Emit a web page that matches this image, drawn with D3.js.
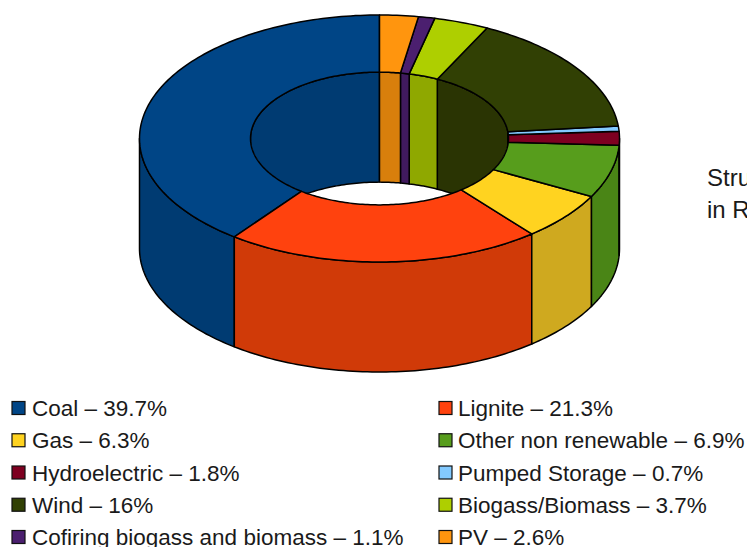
<!DOCTYPE html>
<html>
<head>
<meta charset="utf-8">
<script src="https://cdn.jsdelivr.net/npm/d3@7"></script>
<style>
  html, body { margin: 0; padding: 0; background: #fff; overflow: hidden; }
  text { font-family: "Liberation Sans", Arial, sans-serif; fill: #1a1a1a; }
</style>
</head>
<body>
<div id="wrapper"></div>
<script>
const categories = ["Coal", "Lignite", "Gas", "Other non renewable", "Hydroelectric",
  "Pumped Storage", "Wind", "Biogass/Biomass", "Cofiring biogass and biomass", "PV"];
const values = [39.7, 21.3, 6.3, 6.9, 1.8, 0.7, 16, 3.7, 1.1, 2.6];
const topColors = ["#004586", "#ff420e", "#ffd320", "#579d1c", "#7e0021",
  "#83caff", "#314004", "#aecf00", "#4b1f6f", "#ff950e"];
const wallColors = ["#003b72", "#d03a08", "#cfa91f", "#4a8516", "#6b001c",
  "#6fabd8", "#2a3403", "#8fa800", "#401a5e", "#d87f0c"];
const sideLines = ["Stru", "in R"];

const width = 747, height = 547;
const cx = 379.5, cy = 138.5, outerRx = 240, innerRx = 129, tilt = 0.5146, depth = 110;

const svg = d3.select("#wrapper").append("svg")
  .attr("width", width)
  .attr("height", height)
  .style("display", "block");

const topColor = d3.scaleOrdinal(categories, topColors);
const wallColor = d3.scaleOrdinal(categories, wallColors);

// Coal vem primeiro e as fatias seguem no sentido anti-horario a partir do topo
const slices = d3.pie().value(d => d.value).sort(null).startAngle(2 * Math.PI).endAngle(0)(
  categories.map((name, i) => ({ name, value: values[i] }))
);

const line = d3.line();
const arcPoints = (r, a0, a1, z) => {
  const n = Math.max(2, Math.ceil(Math.abs(a1 - a0) / 0.02));
  return d3.range(n + 1).map(i => {
    const a = a0 + (a1 - a0) * i / n;
    return [cx + r * Math.sin(a), cy - r * tilt * Math.cos(a) + z];
  });
};
const band = (r, a0, a1) => line([...arcPoints(r, a0, a1, 0), ...arcPoints(r, a1, a0, depth)]) + "Z";
const ring = (a0, a1) => line([...arcPoints(outerRx, a0, a1, 0), ...arcPoints(innerRx, a1, a0, 0)]) + "Z";

const span = d => [Math.min(d.startAngle, d.endAngle), Math.max(d.startAngle, d.endAngle)];
const stroked = sel => sel.attr("stroke", "#000").attr("stroke-width", 1.5).attr("stroke-linejoin", "round");

svg.append("clipPath").attr("id", "hole")
  .append("ellipse")
    .attr("cx", cx).attr("cy", cy)
    .attr("rx", innerRx).attr("ry", innerRx * tilt);

// Parede interna: so a metade de tras aparece, recortada pelo furo
const innerBack = slices
  .map(d => {
    const [a0, a1] = span(d);
    // metade de tras = de 270 a 360 e de 0 a 90 graus
    const parts = [];
    const left = [Math.max(a0, 1.5 * Math.PI), a1];
    const right = [a0, Math.min(a1, 0.5 * Math.PI)];
    if (left[1] > left[0]) parts.push(left);
    if (right[1] > right[0]) parts.push(right);
    return parts.map(p => ({ name: d.data.name, a0: p[0], a1: p[1] }));
  })
  .flat();

svg.append("g").attr("clip-path", "url(#hole)")
  .selectAll("path").data(innerBack).join("path")
    .attr("d", d => band(innerRx, d.a0, d.a1))
    .attr("fill", d => wallColor(d.name))
    .call(stroked);

// Parede externa: metade da frente
const outerFront = slices
  .map(d => {
    const [a0, a1] = span(d);
    const p = [Math.max(a0, 0.5 * Math.PI), Math.min(a1, 1.5 * Math.PI)];
    return p[1] > p[0] ? [{ name: d.data.name, a0: p[0], a1: p[1] }] : [];
  })
  .flat();

svg.append("g")
  .selectAll("path").data(outerFront).join("path")
    .attr("d", d => band(outerRx, d.a0, d.a1))
    .attr("fill", d => wallColor(d.name))
    .call(stroked);

// Face de cima
svg.append("g")
  .selectAll("path").data(slices).join("path")
    .attr("d", d => ring(...span(d)))
    .attr("fill", d => topColor(d.data.name))
    .call(stroked);

// Legenda em duas colunas
const legendCol = d3.scaleOrdinal([0, 1], [12, 439]);
const legendRow = d3.scalePoint(d3.range(5), [408, 537]);

const legend = svg.append("g")
  .selectAll("g").data(categories).join("g")
    .attr("transform", (d, i) => `translate(${legendCol(i % 2)},${legendRow(Math.floor(i / 2))})`);

legend.append("rect")
  .attr("x", 0).attr("y", -6.5)
  .attr("width", 13).attr("height", 13)
  .attr("fill", d => topColor(d))
  .attr("stroke", "#111").attr("stroke-width", 1.2);

legend.append("text")
  .attr("x", (d, i) => i % 2 ? 19 : 20)
  .attr("y", 8)
  .attr("font-size", 22.5)
  .text((d, i) => `${d} – ${values[i]}%`);

// Texto cortado pela borda direita
svg.append("g")
  .selectAll("text").data(sideLines).join("text")
    .attr("x", 707)
    .attr("y", (d, i) => 186 + i * 32)
    .attr("font-size", 24)
    .text(d => d);
</script>
</body>
</html>
